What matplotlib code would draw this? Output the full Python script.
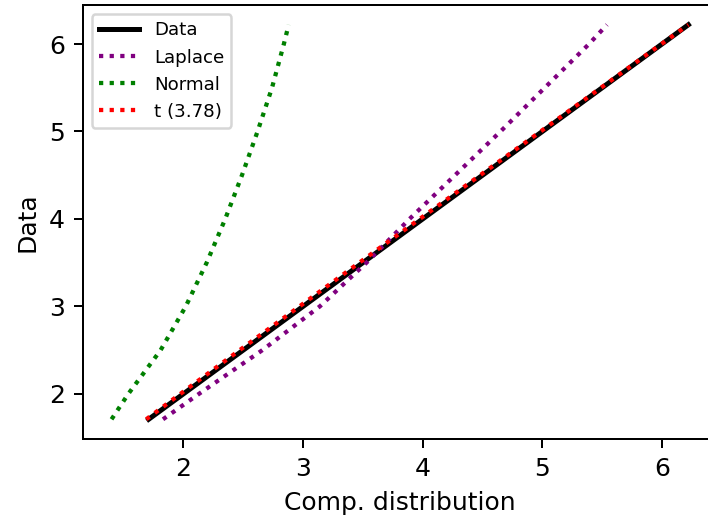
import matplotlib
matplotlib.use("Agg")
import matplotlib.pyplot as plt

# data quantiles (y) and matching quantiles of each compared distribution (x)
data_q = [1.71, 2.0, 2.5, 3.0, 3.5, 4.0, 4.5, 5.0, 5.5, 6.0, 6.22]
laplace_q = [1.83, 2.13, 2.66, 3.14, 3.53, 3.89, 4.27, 4.65, 5.02, 5.39, 5.54]
normal_q = [1.40, 1.54, 1.81, 2.02, 2.195, 2.35, 2.49, 2.62, 2.741, 2.84, 2.88]
t_q = [1.69, 1.975, 2.47, 2.97, 3.47, 3.975, 4.48, 4.985, 5.49, 5.995, 6.22]
t_df = 3.78


def run():
    fig = plt.figure(figsize=(708 / 180, 524 / 180), dpi=180)
    ax = fig.add_axes([0.1168, 0.1622, 0.8962, 0.8282])

    dots = (0, (1, 1.5))
    ax.plot(data_q, data_q, color="black", lw=2.0, label="Data")
    ax.plot(laplace_q, data_q, color="purple", ls=dots, lw=1.7, label="Laplace")
    ax.plot(normal_q, data_q, color="green", ls=dots, lw=1.7, label="Normal")
    ax.plot(t_q, data_q, color="red", ls=dots, lw=1.7, label=f"t ({t_df})")

    ax.set_xlabel("Comp. distribution")
    ax.set_ylabel("Data")
    ax.set_xticks([2, 3, 4, 5, 6])
    ax.set_yticks([2, 3, 4, 5, 6])
    ax.legend(loc="upper left", fontsize=7.3, handlelength=2.2)

    fig.savefig("out.png", dpi=180)


run()
